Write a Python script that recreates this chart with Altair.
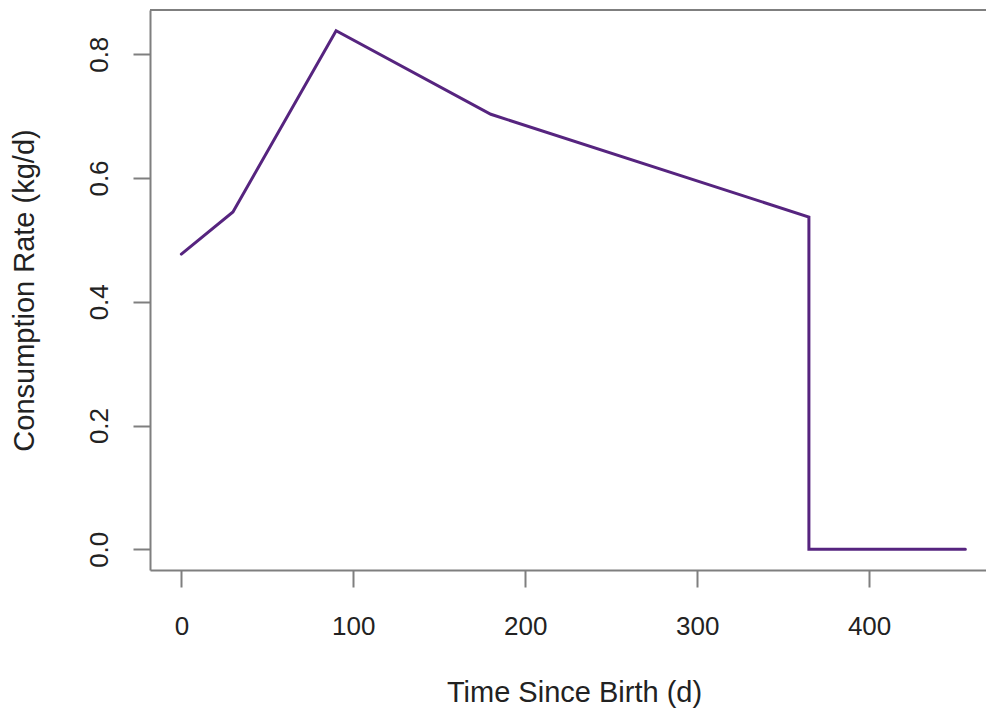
import altair as alt
import pandas as pd

# Data
time_days = [0, 30, 90, 180, 365, 365, 456]
consumption = [0.477, 0.545, 0.838, 0.703, 0.537, 0.0, 0.0]
x_ticks = [0, 100, 200, 300, 400]
y_ticks = [0.0, 0.2, 0.4, 0.6, 0.8]

df = pd.DataFrame({"t": time_days, "c": consumption, "i": list(range(len(time_days)))})

W, H = 836, 560
FONT = "Liberation Sans"
AX = "#7f7f7f"
TXT = "#222222"

x_scale = alt.Scale(domain=[-18.24, 468], nice=False, zero=False)
y_scale = alt.Scale(domain=[-0.0335, 0.8715], nice=False, zero=False)

line = alt.Chart(df).mark_line(color="#56247f", strokeWidth=3, strokeCap="round", strokeJoin="miter").encode(
    x=alt.X("t:Q", scale=x_scale,
            axis=alt.Axis(values=x_ticks, title="Time Since Birth (d)", grid=False,
                          domainColor=AX, domainWidth=2, tickColor=AX, tickWidth=2, tickSize=17,
                          labelFont=FONT, labelFontSize=26, labelColor=TXT, labelPadding=26,
                          labelFlush=False, labelOverlap=False,
                          titleFont=FONT, titleFontSize=29, titleFontWeight="normal", titleColor=TXT,
                          titleX=424, titleY=131, titleBaseline="alphabetic", titleAlign="center")),
    y=alt.Y("c:Q", scale=y_scale,
            axis=alt.Axis(values=y_ticks, format=".1f", title="Consumption Rate (kg/d)", grid=False,
                          domainColor=AX, domainWidth=2, tickColor=AX, tickWidth=2, tickSize=17,
                          labelFont=FONT, labelFontSize=26, labelColor=TXT, labelPadding=26,
                          labelAngle=-90, labelAlign="center", labelBaseline="alphabetic",
                          labelFlush=False, labelOverlap=False,
                          titleFont=FONT, titleFontSize=29, titleFontWeight="normal", titleColor=TXT,
                          titleAngle=-90, titleX=-117, titleY=280, titleBaseline="alphabetic",
                          titleAlign="center")),
    order="i:Q",
)

top_rule = alt.Chart(df).mark_rule(color=AX, strokeWidth=2).encode(
    x=alt.value(0), x2=alt.value(W), y=alt.value(0)
)

chart = alt.layer(line, top_rule).properties(
    width=W, height=H,
    padding={"left": 142, "top": 2, "right": 0, "bottom": 139},
    autosize=alt.AutoSizeParams(type="none"),
    background="white",
).configure_view(stroke=None)

chart.save("out.html", embed_options={"renderer": "svg", "actions": False})
